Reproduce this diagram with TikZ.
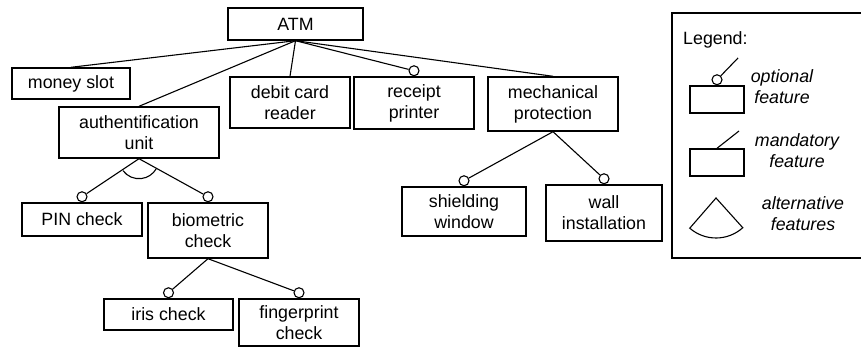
\documentclass[tikz,border=0pt]{standalone}
\usepackage{fontspec}
\setmainfont{Liberation Sans}
\begin{document}
\begin{tikzpicture}[x=1pt,y=1pt,
  feat/.style={draw,line width=1.4pt,rectangle,inner sep=0pt,align=center,font=\fontsize{17.8}{21}\selectfont},
  opt/.style={draw,line width=1.1pt,circle,fill=white,inner sep=0pt,minimum size=10pt,anchor=south},
  conn/.style={line width=1.1pt},
  legtxt/.style={align=center,font=\fontsize{17.8}{21}\selectfont\itshape,inner sep=0pt}]
\useasboundingbox (0,0) rectangle (861,-347);
% feature boxes
\node[feat,minimum width=135pt,minimum height=32pt] (atm) at (295.5,-24) {ATM};
\node[feat,minimum width=118pt,minimum height=31pt] (money) at (71,-83.5) {money slot};
\node[feat,minimum width=160pt,minimum height=51pt] (auth) at (139,-132.5) {authentification\\unit};
\node[feat,minimum width=120pt,minimum height=51pt] (debit) at (290,-102.5) {debit card\\reader};
\node[feat,minimum width=120pt,minimum height=52pt] (receipt) at (414,-103) {receipt\\printer};
\node[feat,minimum width=130pt,minimum height=54pt] (mech) at (553,-104) {mechanical\\protection};
\node[feat,minimum width=120pt,minimum height=33pt] (pin) at (82,-219.5) {PIN check};
\node[feat,minimum width=120pt,minimum height=55pt] (bio) at (208,-230.5) {biometric\\check};
\node[feat,minimum width=129pt,minimum height=31pt] (iris) at (168.5,-314.5) {iris check};
\node[feat,minimum width=120pt,minimum height=47pt] (finger) at (299,-322.5) {fingerprint\\check};
\node[feat,minimum width=124pt,minimum height=49pt] (shield) at (464,-211.5) {shielding\\window};
\node[feat,minimum width=116pt,minimum height=56pt] (wall) at (604,-213) {wall\\installation};
% optional markers
\node[opt] (oreceipt) at (receipt.north) {};
\node[opt] (opin) at (pin.north) {};
\node[opt] (obio) at (bio.north) {};
\node[opt] (oiris) at (iris.north) {};
\node[opt] (ofinger) at (finger.north) {};
\node[opt] (oshield) at (shield.north) {};
\node[opt] (owall) at (wall.north) {};
% connectors
\draw[conn] (atm.south) -- (money.north);
\draw[conn] (atm.south) -- (auth.north);
\draw[conn] (atm.south) -- (debit.north);
\draw[conn] (atm.south) -- (oreceipt);
\draw[conn] (atm.south) -- (mech.north);
\draw[conn] (auth.south) -- (opin);
\draw[conn] (auth.south) -- (obio);
\draw[conn] (auth.south) ++(216.7:20) arc[start angle=216.7,end angle=329.6,radius=20];
\draw[conn] (bio.south) -- (oiris);
\draw[conn] (bio.south) -- (ofinger);
\draw[conn] (mech.south) -- (oshield);
\draw[conn] (mech.south) -- (owall);
% legend
\draw[line width=1.4pt] (672,-13) rectangle (866,-258);
\node[anchor=west,inner sep=0pt,font=\fontsize{17.8}{21}\selectfont] (legend) at (683,-40) {Legend:};
\node[feat,minimum width=54pt,minimum height=27pt] (lopt) at (717,-99.5) {};
\node[opt] (lopto) at (lopt.north) {};
\coordinate (loptend) at (738,-58);
\draw[conn] (lopto) -- (loptend);
\node[legtxt] (loptt) at (782,-87) {optional\\feature};
\node[feat,minimum width=54pt,minimum height=27pt] (lman) at (717,-162.5) {};
\coordinate (lmanend) at (739,-131);
\draw[conn] (lman.north) -- (lmanend);
\node[legtxt] (lmant) at (797,-151) {mandatory\\feature};
\coordinate (lalt) at (716,-198);
\draw[conn] (lalt) -- ++(229:40) arc[start angle=229,end angle=312,radius=40] -- cycle;
\node[legtxt] (laltt) at (803,-213.5) {alternative\\features};
\end{tikzpicture}
\end{document}
